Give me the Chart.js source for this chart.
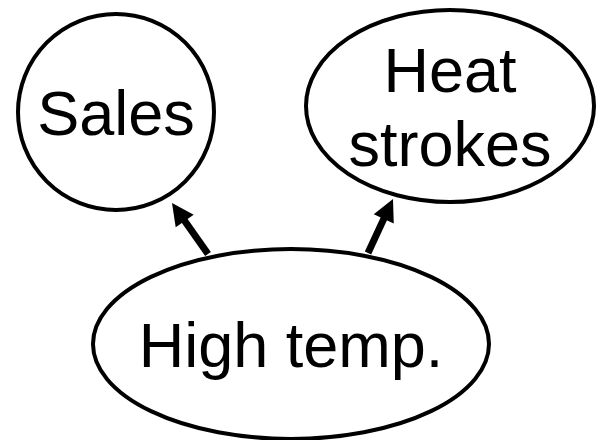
<!DOCTYPE html>
<html>
<head>
<meta charset="utf-8">
<script src="https://cdn.jsdelivr.net/npm/chart.js@4/dist/chart.umd.min.js"></script>
<style>
  html, body { margin: 0; padding: 0; background: #fff; }
  #wrap { width: 602px; height: 440px; }
</style>
</head>
<body>
<div id="wrap"><canvas id="diagram"></canvas></div>
<script>
// nodes of the diagram (centre and radii in diagram units)
const nodeLabels = [["Sales"], ["Heat", "strokes"], ["High temp."]];
const nodeX = [116, 450, 291];
const nodeY = [112, 106, 344];
const nodeRx = [98, 144, 198];
const nodeRy = [98, 96, 95];

// arrows: tail point -> head point
const arrowFromX = [208, 368];
const arrowFromY = [254, 253];
const arrowToX = [172, 393];
const arrowToY = [203, 199];

const diagramPlugin = {
    id: 'diagram',
    afterDatasetsDraw(chart) {
        const ctx = chart.ctx;
        const xs = chart.scales.x, ys = chart.scales.y;
        ctx.save();
        ctx.strokeStyle = '#000';
        ctx.fillStyle = '#000';

        // ellipses + labels
        nodeLabels.forEach((lines, i) => {
            const cx = xs.getPixelForValue(nodeX[i]);
            const cy = ys.getPixelForValue(nodeY[i]);
            const rx = Math.abs(xs.getPixelForValue(nodeX[i] + nodeRx[i]) - cx);
            const ry = Math.abs(ys.getPixelForValue(nodeY[i] + nodeRy[i]) - cy);
            ctx.lineWidth = 4;
            ctx.beginPath();
            ctx.ellipse(cx, cy, rx, ry, 0, 0, Math.PI * 2);
            ctx.stroke();

            ctx.font = '63px "Liberation Sans", Arial, sans-serif';
            ctx.textAlign = 'center';
            ctx.textBaseline = 'alphabetic';
            const capH = 45, lineH = 74;
            lines.forEach((t, j) => {
                const y = cy + capH / 2 + (j - (lines.length - 1) / 2) * lineH;
                ctx.fillText(t, cx, y);
            });
        });

        // arrows
        arrowFromX.forEach((_, i) => {
            const x1 = xs.getPixelForValue(arrowFromX[i]);
            const y1 = ys.getPixelForValue(arrowFromY[i]);
            const x2 = xs.getPixelForValue(arrowToX[i]);
            const y2 = ys.getPixelForValue(arrowToY[i]);
            const ang = Math.atan2(y2 - y1, x2 - x1);
            const headLen = 22, headW = 11;
            const bx = x2 - headLen * Math.cos(ang);
            const by = y2 - headLen * Math.sin(ang);
            ctx.lineWidth = 7;
            ctx.beginPath();
            ctx.moveTo(x1, y1);
            ctx.lineTo(bx + 2 * Math.cos(ang), by + 2 * Math.sin(ang));
            ctx.stroke();
            ctx.beginPath();
            ctx.moveTo(x2, y2);
            ctx.lineTo(bx + headW * Math.sin(ang), by - headW * Math.cos(ang));
            ctx.lineTo(bx - headW * Math.sin(ang), by + headW * Math.cos(ang));
            ctx.closePath();
            ctx.fill();
        });
        ctx.restore();
    }
};

new Chart(document.getElementById('diagram'), {
    type: 'scatter',
    data: {
        datasets: [{
            data: nodeX.map((x, i) => ({ x: x, y: nodeY[i] })),
            pointRadius: 0
        }]
    },
    options: {
        responsive: true,
        maintainAspectRatio: false,
        animation: false,
        layout: { padding: 0 },
        plugins: { legend: { display: false }, tooltip: { enabled: false } },
        scales: {
            x: { type: 'linear', min: 0, max: 602, display: false },
            y: { type: 'linear', min: 0, max: 440, reverse: true, display: false }
        }
    },
    plugins: [diagramPlugin]
});
</script>
</body>
</html>
